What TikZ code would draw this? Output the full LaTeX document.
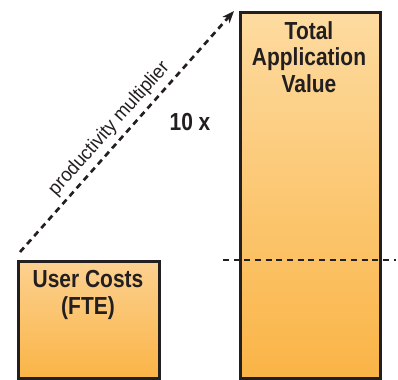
\documentclass[tikz,border=0pt]{standalone}
\usepackage{fontspec}
\setmainfont{Liberation Sans}[FakeStretch=0.85]
\newfontfamily\notefont{Liberation Sans}[FakeStretch=0.95]
\usetikzlibrary{arrows.meta}
\definecolor{ink}{HTML}{231F20}
\definecolor{barlight}{HTML}{FDDBA0}
\definecolor{barmid}{HTML}{FCD190}
\definecolor{bardark}{HTML}{FAB446}

\begin{document}
\begin{tikzpicture}[x=0.75pt,y=-0.75pt,>={Stealth[length=9pt,width=7pt,inset=2.5pt]}]
\tikzset{bar/.style={draw=ink,line width=2.2pt,bottom color=bardark,anchor=north west,inner sep=0pt},
  head/.style={font=\fontsize{18.5}{20}\selectfont\bfseries,text=ink,align=center},
  guide/.style={ink,line width=2pt,dash pattern=on 4.5pt off 3.5pt}}
\useasboundingbox (0,0) rectangle (398,379);
\node[bar,top color=barmid,minimum width=105.75pt,minimum height=87.75pt] (user) at (17,260) {};
\node[bar,top color=barlight,minimum width=105pt,minimum height=274.5pt] (total) at (239,11) {};
\node[head] (usertxt) at (88,295) {User Costs\\(FTE)};
\node[head] (totaltxt) at (309,57) {Total\\Application\\Value};
\node[head] (factor) at (190,122) {10 x};
\coordinate (start) at (20,252);
\coordinate (tip) at (234,11);
\coordinate (lvl) at (223,260);
\coordinate (lvlend) at (396,260);
\draw[guide] (lvl) -- (lvlend);
\draw[guide,->] (start) -- (tip)
  node[pos=0.47,sloped,above=3.5pt,inner sep=0pt,font=\notefont\fontsize{14.5}{16}\selectfont,text=ink] (multlabel) {productivity multiplier};
\end{tikzpicture}
\end{document}
